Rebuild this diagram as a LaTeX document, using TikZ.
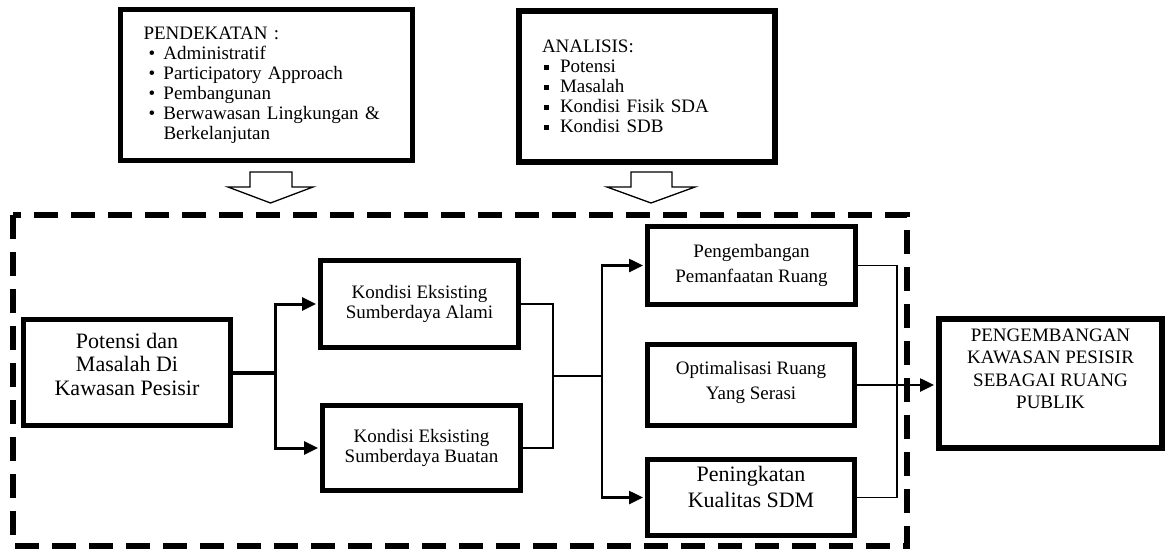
\documentclass[tikz,border=0pt]{standalone}
\usepackage{fontspec}
\setmainfont{Liberation Serif}
\usetikzlibrary{arrows.meta,calc}

\newcommand{\dotitem}[1]{\hspace*{5pt}\makebox[15pt][l]{\textbullet}#1}
\newcommand{\sqitem}[1]{\hspace*{2pt}\makebox[16pt][l]{\rule[3pt]{5pt}{5pt}}#1}
\newcommand{\liftby}[2]{\raisebox{#1}[0pt][0pt]{\begin{tabular}{@{}c@{}}#2\end{tabular}}}

\tikzset{
  box/.style={draw, line width=5pt, inner sep=2pt, align=center},
  listbox/.style={draw, line width=5pt, inner xsep=23pt, inner ysep=0pt, align=left,
    font=\fontsize{19}{20}\selectfont},
  link/.style={line width=1.3pt},
  feed/.style={line width=2.5pt, shorten >=2pt, -{Triangle[length=14pt,width=13pt]}},
  hollow/.style={line width=1.3pt, line join=miter},
  frame/.style={line width=6pt, dash pattern=on 24pt off 13pt}
}

\begin{document}
\begin{tikzpicture}[x=1pt,y=-1pt]
\useasboundingbox (0,0) rectangle (1166,551);

% Pendekatan dan analisis
\node[listbox, minimum width=292pt, minimum height=151pt, text width=246pt] (pend) at (266.5,85) {
PENDEKATAN :\\
\dotitem{Administratif}\\
\dotitem{Participatory Approach}\\
\dotitem{Pembangunan}\\
\dotitem{Berwawasan Lingkungan \&}\\
\hspace*{20pt}Berkelanjutan
};
\node[listbox, line width=6pt, minimum width=256pt, minimum height=151pt, text width=210pt] (anal) at (647,86.5) {
ANALISIS:\\
\sqitem{Potensi}\\
\sqitem{Masalah}\\
\sqitem{Kondisi Fisik SDA}\\
\sqitem{Kondisi SDB}
};

% Panah besar ke bawah
\draw[hollow] (250,172) -- (292,172) -- (292,187) -- (313,187) -- (270.5,203) -- (228,187) -- (250,187) -- cycle;
\draw[hollow] (631,172) -- (672,172) -- (672,187) -- (695,187) -- (651,203) -- (607,187) -- (631,187) -- cycle;

% Kawasan studi
\draw[frame] (13,215) rectangle (907,546);

\node[box, minimum width=207pt, minimum height=106pt, font=\fontsize{22}{23.5}\selectfont] (potensi) at (127,372.5) {\liftby{0.5pt}{Potensi dan\\Masalah Di\\Kawasan Pesisir}};

\node[box, minimum width=198pt, minimum height=87pt, font=\fontsize{19}{20}\selectfont] (alami) at (419.5,304) {Kondisi Eksisting\\Sumberdaya Alami};
\node[box, minimum width=198pt, minimum height=85pt, font=\fontsize{19}{20}\selectfont] (buatan) at (421.5,448) {Kondisi Eksisting\\Sumberdaya Buatan};

\node[box, minimum width=208pt, minimum height=78pt, font=\fontsize{19}{25}\selectfont] (peng) at (751.5,265.5) {Pengembangan\\Pemanfaatan Ruang};
\node[box, minimum width=207pt, minimum height=81pt, font=\fontsize{19}{25}\selectfont] (optimal) at (751,385) {\liftby{-1pt}{Optimalisasi Ruang\\Yang Serasi}};
\node[box, minimum width=207pt, minimum height=76pt, font=\fontsize{22}{26}\selectfont] (pening) at (751,497.5) {\liftby{3.5pt}{Peningkatan\\Kualitas SDM}};

\node[box, line width=6pt, minimum width=223pt, minimum height=129pt, font=\fontsize{19}{22.5}\selectfont] (final) at (1050.5,383) {\liftby{8pt}{PENGEMBANGAN\\KAWASAN PESISIR\\SEBAGAI RUANG\\PUBLIK}};

% Alur
\coordinate (fork1) at (275,372.5);
\draw[line width=4pt] (potensi.east) -- (fork1);
\draw[feed, line width=3pt] (fork1) |- (alami.west);
\draw[feed, line width=3pt] (fork1) |- (buatan.west);

\coordinate (merge1) at (553,376);
\coordinate (fork2) at (602,376);
\draw[link] (alami.east) -| (merge1) |- (buatan.east);
\draw[link] (merge1) -- (fork2);
\draw[feed] (fork2) |- (peng.west);
\draw[feed] (fork2) |- (pening.west);

\coordinate (merge2) at (897,385);
\draw[link] (peng.east) -| (merge2) |- (pening.east);
\draw[link] (optimal.east) -- (merge2);
\draw[feed] (merge2) -- (final.west |- merge2);
\end{tikzpicture}
\end{document}
